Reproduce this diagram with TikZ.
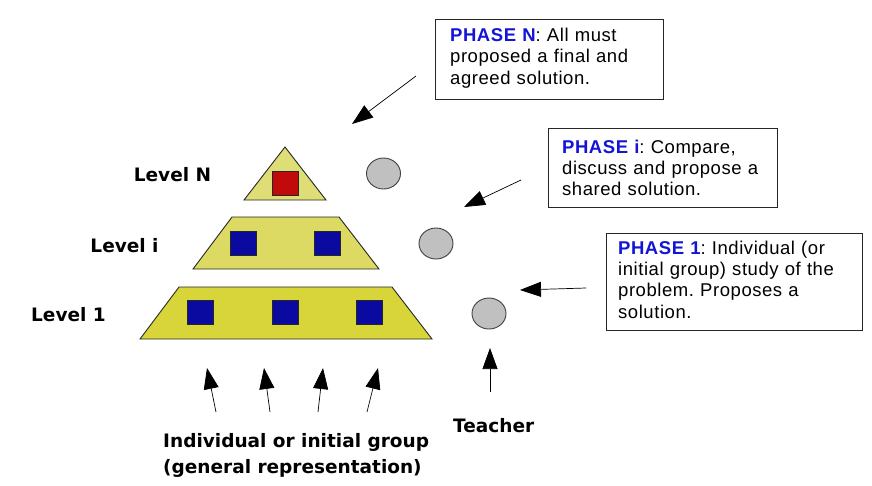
\documentclass[tikz,border=0pt]{standalone}
\usepackage{fontspec}
\setmainfont{Liberation Sans}
\newfontfamily\lvlfont{DejaVu Sans}
\newfontfamily\phfont{Liberation Sans}[LetterSpace=3]
\usetikzlibrary{shapes.geometric,arrows.meta}
\frenchspacing
\definecolor{ytop}{RGB}{223,221,118}
\definecolor{ymid}{RGB}{221,218,100}
\definecolor{ybot}{RGB}{216,213,58}
\definecolor{sqblue}{RGB}{10,10,160}
\definecolor{sqred}{RGB}{195,10,10}
\definecolor{cgray}{RGB}{192,192,192}
\definecolor{phblue}{RGB}{20,20,215}
\tikzset{
  level/.style={draw=black!85, line width=0.9pt, line join=miter},
  sq/.style={draw=black!85, line width=1pt, minimum width=26pt, minimum height=24pt, inner sep=0pt},
  disc/.style={ellipse, draw=black!75, line width=0.9pt, fill=cgray, minimum width=34pt, minimum height=31pt, inner sep=0pt},
  lbl/.style={font=\lvlfont\bfseries\fontsize{18.5}{26}\selectfont, inner sep=0pt},
  phbox/.style={draw=black!85, line width=0.9pt, anchor=north west, inner sep=0pt},
  phtext/.style={anchor=north west, inner sep=0pt, align=left, text width=260pt, font=\phfont\frenchspacing\fontsize{18.5}{21.3}\selectfont},
  arr/.style={line width=0.7pt, -{Triangle[length=21pt,width=15pt]}},
}
\newcommand{\ph}[1]{\textcolor{phblue}{\bfseries #1}}
\begin{document}
\begin{tikzpicture}[x=1pt,y=-1pt]
\useasboundingbox (0,0) rectangle (872,485);
\fill[white] (0,0) rectangle (872,485);
% pyramid levels
\draw[level, fill=ytop] (244,200) -- (285,147) -- (326,200) -- cycle;
\draw[level, fill=ymid] (193,269) -- (232,217) -- (339,217) -- (379,269) -- cycle;
\draw[level, fill=ybot] (140,339) -- (179,287) -- (392,287) -- (432,339) -- cycle;
% squares
\node[sq, fill=sqred] (r1) at (285,183) {};
\node[sq, fill=sqblue] (b1) at (243,243) {};
\node[sq, fill=sqblue] (b2) at (327,243) {};
\node[sq, fill=sqblue] (b3) at (200.5,312.5) {};
\node[sq, fill=sqblue] (b4) at (285,312.5) {};
\node[sq, fill=sqblue] (b5) at (369,312.5) {};
% discs
\node[disc] (cN) at (383.5,173.5) {};
\node[disc] (ci) at (436,243.5) {};
\node[disc] (c1) at (489,313.5) {};
% level labels
\node[lbl] (lN) at (172.5,175) {Level N};
\node[lbl] (li) at (124.5,246) {Level i};
\node[lbl] (l1) at (68.5,315) {Level 1};
% phase boxes
\node[phbox, minimum width=228pt, minimum height=80pt] (pN) at (435,19) {};
\node[phtext] (pNt) at (450,28) {\ph{PHASE N}: All must\\proposed a final and\\agreed solution.};
\node[phbox, minimum width=229pt, minimum height=79pt] (pI) at (548,128) {};
\node[phtext] (pIt) at (562,139.5) {\ph{PHASE i}: Compare,\\discuss and propose a\\shared solution.};
\node[phbox, minimum width=256pt, minimum height=97pt] (p1) at (606,233) {};
\node[phtext] (p1t) at (618,240.5) {\ph{PHASE 1}: Individual (or\\initial group) study of the\\problem. Proposes a\\solution.};
% bottom labels
\node[lbl, anchor=base west] (grp1) at (163,447) {Individual or initial group};
\node[lbl, anchor=base west] (grp2) at (163,473) {(general representation)};
\node[lbl, anchor=base west] (tch) at (453,432) {Teacher};
% arrow coordinates
\coordinate (aN0) at (416,76);  \coordinate (aN1) at (352,124);
\coordinate (ai0) at (521,180); \coordinate (ai1) at (464,207);
\coordinate (a10) at (586,288); \coordinate (a11) at (520,290);
\coordinate (at0) at (490,392); \coordinate (at1) at (490,348);
\coordinate (g10) at (216,412); \coordinate (g11) at (207,368);
\coordinate (g20) at (270,412); \coordinate (g21) at (264,368);
\coordinate (g30) at (318,412); \coordinate (g31) at (323,368);
\coordinate (g40) at (367,412); \coordinate (g41) at (378,368);
\draw[arr] (aN0) -- (aN1);
\draw[arr] (ai0) -- (ai1);
\draw[arr] (a10) -- (a11);
\draw[arr] (at0) -- (at1);
\draw[arr] (g10) -- (g11);
\draw[arr] (g20) -- (g21);
\draw[arr] (g30) -- (g31);
\draw[arr] (g40) -- (g41);
\end{tikzpicture}
\end{document}
